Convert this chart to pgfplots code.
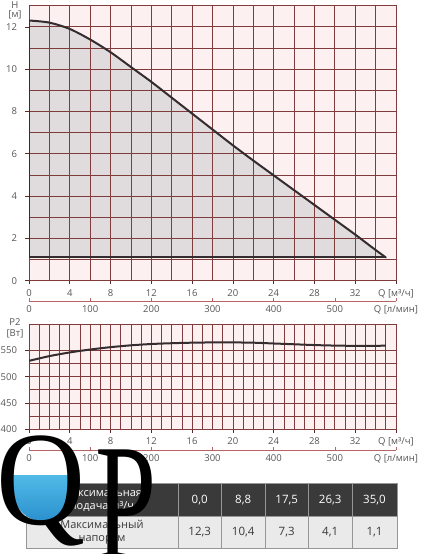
\documentclass[border=0pt]{standalone}
\usepackage{fontspec}
\setmainfont{Open Sans}
\newfontfamily\logofont{Liberation Serif}
\usepackage{pgfplots}
\pgfplotsset{compat=1.18}

\definecolor{gridc}{RGB}{128,60,60}
\definecolor{bgpink}{RGB}{253,240,240}
\definecolor{fillc}{RGB}{224,219,221}
\definecolor{curvec}{RGB}{52,44,46}
\definecolor{txtc}{RGB}{85,85,85}
\definecolor{lmin}{RGB}{185,100,100}
\definecolor{tdark}{RGB}{58,58,58}
\definecolor{tlight}{RGB}{234,234,234}
\definecolor{tline}{RGB}{150,150,150}
\definecolor{water1}{RGB}{80,185,230}
\definecolor{water2}{RGB}{15,115,190}

\pgfplotsset{
  chart/.style={
    scale only axis, width=367pt, xmin=0, xmax=36,
    set layers,
    axis background/.style={fill=bgpink},
    grid=both,
    major grid style={draw=gridc, line width=0.7pt},
    minor grid style={draw=gridc, line width=0.7pt},
    axis line style={draw=gridc, line width=0.7pt},
    tick align=outside, tick pos=left,
    major tick length=3.5pt, minor tick length=0pt,
    tick style={draw=gridc!70!black, line width=0.6pt},
    ticklabel style={font=\fontsize{9.5}{10}\selectfont, text=txtc},
    yticklabel style={xshift=-5pt},
    xticklabel style={yshift=-1.5pt},
    /pgf/number format/assume math mode=true,
  },
  lminaxis/.style={
    scale only axis, width=367pt, height=5pt,
    xmin=0, xmax=600, ymin=0, ymax=1,
    axis y line=none, axis x line*=bottom,
    axis line style={draw=lmin, line width=0.8pt},
    xtick={0,100,...,600},
    xticklabels={0,100,200,300,400,500,{Q [л/мин]}},
    tick align=inside, major tick length=2.5pt,
    tick style={draw=lmin, line width=0.6pt},
    ticklabel style={font=\fontsize{9.5}{10}\selectfont, text=txtc},
    xticklabel style={yshift=-1pt},
    /pgf/number format/assume math mode=true,
  },
}

\begin{document}
\begin{tikzpicture}

% head curve H(Q)
\begin{axis}[chart, at={(29pt,273.3pt)}, anchor=south west, height=275pt,
  ymin=0, ymax=13,
  xtick={0,4,...,36}, xticklabels={0,4,8,12,16,20,24,28,32,{Q [м³/ч]}},
  minor x tick num=1,
  ytick={0,2,...,12}, minor y tick num=1,
]
\addplot[on layer=axis background, fill=fillc, draw=none] coordinates {
  (0,1.1) (0,12.3) (1,12.27) (2,12.2) (3,12.07) (4,11.9) (5,11.67) (6,11.4)
  (7,11.11) (8,10.8) (9,10.46) (10,10.1) (12,9.4)
  (14,8.65) (16,7.9) (18,7.15) (20,6.4) (22,5.68) (24,4.98) (26,4.28)
  (28,3.58) (30,2.88) (32,2.18) (34,1.45) (35,1.1) (0,1.1)};
\addplot[curvec, line width=2pt, line join=round, line cap=round, smooth] coordinates {
  (0,12.3) (2,12.2) (4,11.9) (6,11.4) (8,10.8) (10,10.1) (12,9.4)
  (14,8.65) (16,7.9) (18,7.15) (20,6.4) (22,5.68) (24,4.98) (26,4.28)
  (28,3.58) (30,2.88) (32,2.18) (34,1.45) (35,1.1)};
\addplot[curvec, line width=2pt, line join=round] coordinates {
  (0,12.3) (0,1.1) (35,1.1)};
\end{axis}
\node[font=\fontsize{9.5}{10}\selectfont, text=txtc] at (15pt,549pt) {H};
\node[font=\fontsize{9.5}{10}\selectfont, text=txtc] at (15pt,539pt) {[м]};

\begin{axis}[lminaxis, at={(29pt,253pt)}, anchor=south west]
\addplot[draw=none] coordinates {(0,0) (600,1)};
\end{axis}

% power P2(Q)
\begin{axis}[chart, at={(29pt,124.7pt)}, anchor=south west, height=105.3pt,
  ymin=400, ymax=600,
  xtick={0,4,...,36}, xticklabels={0,4,8,12,16,20,24,28,32,{Q [м³/ч]}},
  minor x tick num=3,
  ytick={400,450,...,550}, minor y tick num=1,
]
\addplot[curvec, line width=2pt, smooth] coordinates {
  (0,530) (2,539) (4,546) (6,551.5) (8,556) (10,559.5) (12,562) (14,563.5)
  (16,564.5) (18,565) (20,565) (22,564.5) (24,563) (26,561.5) (28,560)
  (30,559) (32,558.5) (34,558.5) (35,559)};
\end{axis}
\node[font=\fontsize{9.5}{10}\selectfont, text=txtc] at (15pt,232pt) {P2};
\node[font=\fontsize{9.5}{10}\selectfont, text=txtc] at (15pt,220pt) {[Вт]};

\begin{axis}[lminaxis, at={(29pt,104pt)}, anchor=south west]
\addplot[draw=none] coordinates {(0,0) (600,1)};
\end{axis}

% table
\fill[tdark] (26.7pt,37.3pt) rectangle (397pt,70.7pt);
\fill[tlight] (26.7pt,5.7pt) rectangle (397pt,37.3pt);
\draw[tline, line width=0.6pt] (26.7pt,5.7pt) rectangle (397pt,70.7pt);
\draw[tline, line width=0.6pt] (26.7pt,37.3pt) -- (397pt,37.3pt);
\foreach \x in {178,221.5,265,308.5,352}
  \draw[tline, line width=0.6pt] (\x pt,5.7pt) -- (\x pt,70.7pt);
\node[text=white, font=\fontsize{11}{13}\selectfont, align=center] at (102pt,54pt)
  {Максимальная\\подача м³/ч};
\node[text=tdark, font=\fontsize{11}{13}\selectfont, align=center] at (102pt,21.5pt)
  {Максимальный\\напор, м};
\foreach \x/\a/\b in {199.7/{0,0}/{12,3}, 243.2/{8,8}/{10,4}, 286.7/{17,5}/{7,3},
                      330.2/{26,3}/{4,1}, 374.5/{35,0}/{1,1}} {
  \node[text=white, font=\fontsize{11.5}{13}\selectfont] at (\x pt,54pt) {\a};
  \node[text=tdark, font=\fontsize{11.5}{13}\selectfont] at (\x pt,21.5pt) {\b};
}

% logo watermark
\begin{scope}
  \clip (42pt,73pt) ellipse (32pt and 40pt);
  \shade[top color=water1, bottom color=water2] (0pt,0pt) rectangle (100pt,78pt);
\end{scope}
\node[anchor=base west, inner sep=0, xscale=0.92] at (-4pt,29pt)
  {\logofont\fontsize{134}{134}\selectfont Q};
\node[anchor=base west, inner sep=0, xscale=0.82, yscale=1.25] at (95pt,-5pt)
  {\logofont\fontsize{134}{134}\selectfont P};

\pgfresetboundingbox
\useasboundingbox (0,0) rectangle (422pt,554pt);
\end{tikzpicture}
\end{document}
